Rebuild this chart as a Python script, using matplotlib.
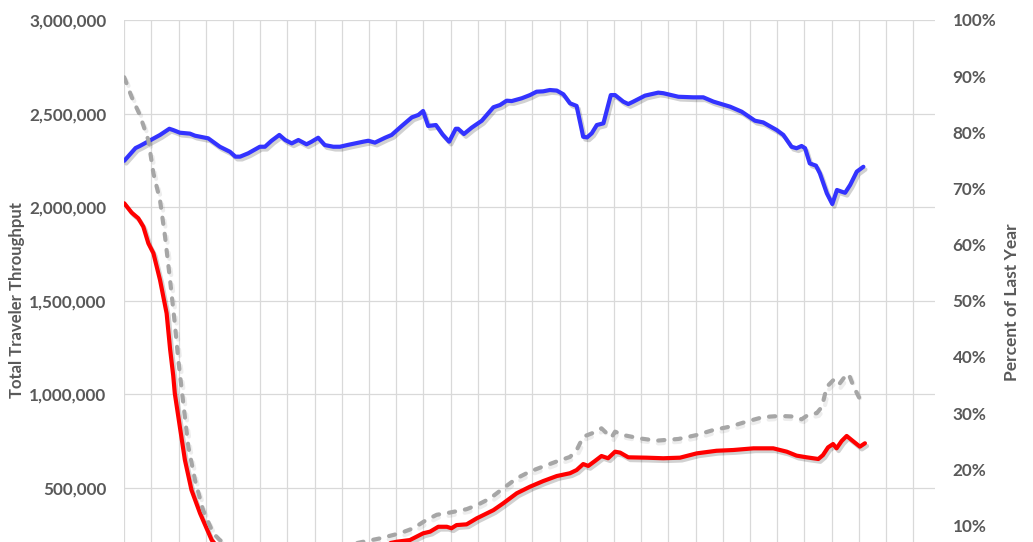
import matplotlib
matplotlib.use("Agg")
import matplotlib.pyplot as plt
import matplotlib.patheffects as pe
from matplotlib.ticker import FuncFormatter, MultipleLocator

# ---- data (x = days from start) ----
blue_days = [0, 2.9, 4.0, 6.2, 9.2, 11.6, 12.6, 14.3, 16.9, 18.2, 21.6, 24.6, 27.2, 28.6, 29.8,
             31.9, 34.9, 36.2, 37.9, 39.9, 41.4, 43.1, 44.8, 46.9, 48.2, 49.9, 51.6, 53.8, 55.5,
             57.6, 61.5, 62.8, 64.5, 67.1, 68.8, 71.4, 74.0, 75.7, 76.9, 78.2, 80.2, 81.9, 83.6,
             85.3, 85.9, 87.4, 89.4, 92.0, 95.0, 96.7, 98.4, 99.7, 102.3, 104.4, 106.1, 107.8,
             109.5, 111.3, 113.0, 114.7, 116.4, 118.1, 119.1, 120.3, 121.6, 123.3, 125.2, 126.3,
             128.4, 129.7, 131.0, 134.0, 137.4, 138.7, 142.6, 146.4, 149.0, 151.6, 155.9, 158.9,
             162.3, 164.4, 167.9, 169.6, 171.7, 173.0, 174.3, 175.2, 176.4, 178.0, 179.0, 180.8,
             182.2, 183.4, 184.6, 185.5, 186.8, 188.5, 190.2]
blue_vals = [2.248, 2.316, 2.327, 2.352, 2.386, 2.419, 2.412, 2.398, 2.393, 2.382, 2.368, 2.323,
             2.296, 2.270, 2.270, 2.288, 2.323, 2.323, 2.355, 2.386, 2.359, 2.341, 2.359, 2.336,
             2.350, 2.371, 2.332, 2.323, 2.323, 2.333, 2.350, 2.355, 2.345, 2.371, 2.386, 2.434,
             2.480, 2.493, 2.514, 2.434, 2.439, 2.389, 2.350, 2.419, 2.419, 2.391, 2.425, 2.462,
             2.534, 2.546, 2.569, 2.567, 2.582, 2.599, 2.617, 2.619, 2.626, 2.623, 2.603, 2.555,
             2.541, 2.376, 2.373, 2.395, 2.439, 2.448, 2.599, 2.599, 2.564, 2.551, 2.564, 2.596,
             2.612, 2.609, 2.590, 2.587, 2.587, 2.564, 2.537, 2.510, 2.462, 2.453, 2.412, 2.386,
             2.323, 2.315, 2.327, 2.315, 2.234, 2.222, 2.181, 2.074, 2.017, 2.092, 2.083, 2.077,
             2.119, 2.190, 2.216]

red_days = [0, 1.9, 3.6, 4.9, 6.2, 7.5, 9.2, 10.9, 11.8, 12.6, 13.0, 14.3, 15.6, 17.3, 19.5, 22.5,
            25, 28, 32, 36, 40, 44, 48, 52, 56, 60, 64, 67,
            70.1, 73.5, 76.9, 78.7, 80.8, 83.0, 84.2, 85.5, 88.1, 90.7, 95.0, 97.5, 101.0, 104.4,
            107.8, 111.3, 114.7, 116.4, 118.1, 119.4, 121.1, 122.8, 124.5, 126.3, 127.6, 129.7,
            134.4, 138.7, 143.0, 147.3, 152.4, 156.7, 161.9, 167.0, 170.5, 173.0, 175.6, 178.6,
            179.8, 181.1, 182.4, 183.3, 184.6, 185.9, 187.2, 189.3, 190.6]
red_vals = [2.021, 1.971, 1.941, 1.896, 1.807, 1.754, 1.611, 1.433, 1.240, 1.100, 1.006, 0.827,
            0.650, 0.489, 0.365, 0.222,
            0.160, 0.120, 0.100, 0.095, 0.100, 0.110, 0.125, 0.140, 0.160, 0.175, 0.188, 0.200,
            0.213, 0.222, 0.258, 0.267, 0.293, 0.293, 0.285, 0.302, 0.306, 0.338, 0.382, 0.418,
            0.472, 0.507, 0.537, 0.564, 0.579, 0.596, 0.628, 0.618, 0.644, 0.671, 0.659, 0.694,
            0.689, 0.664, 0.662, 0.659, 0.662, 0.685, 0.699, 0.703, 0.712, 0.712, 0.694, 0.673,
            0.664, 0.655, 0.676, 0.717, 0.735, 0.712, 0.751, 0.778, 0.756, 0.721, 0.739]

pct_days = [0, 1.9, 4.0, 6.2, 7.5, 9.2, 10.5, 11.8, 13.0, 13.9, 15.2, 16.5, 18.2, 20.3, 22.9, 24.6,
            28, 32, 36, 40, 44, 48, 52, 56,
            61.5, 65.8, 70.9, 74.4, 77.8, 80.4, 83.8, 88.1, 90.7, 94.1, 97.5, 101.0, 104.4, 107.8,
            111.3, 114.7, 116.4, 118.1, 120.7, 122.8, 123.7, 125.4, 126.3, 128.4, 132.7, 137.0,
            142.6, 147.3, 151.6, 155.9, 160.2, 164.4, 168.7, 172.1, 174.3, 176.0, 178.2, 179.5,
            180.8, 182.5, 183.8, 185.1, 186.4, 187.7, 189.3]
pct_vals = [89.8, 86.3, 83.1, 78.6, 72.7, 67.9, 61.4, 53.6, 46.0, 39.5, 31.7, 24.0, 18.1, 12.7,
            8.6, 7.4,
            6.0, 5.0, 4.3, 4.2, 4.6, 5.1, 5.7, 6.3,
            7.1, 7.7, 8.6, 9.5, 11.0, 11.9, 12.3, 12.9, 13.6, 14.8, 16.6, 18.4, 19.6, 20.5, 21.4,
            22.2, 23.4, 25.8, 26.5, 27.3, 26.7, 25.7, 26.7, 26.1, 25.5, 25.1, 25.4, 26.1, 27.0,
            27.6, 28.5, 29.3, 29.5, 29.4, 28.9, 29.7, 30.0, 31.1, 34.7, 35.9, 35.0, 36.2, 37.0,
            34.7, 32.5]

left_ticks = [0, 500000, 1000000, 1500000, 2000000, 2500000, 3000000]
right_ticks = [10, 20, 30, 40, 50, 60, 70, 80, 90, 100]
left_label = "Total Traveler Throughput"
right_label = "Percent of Last Year"

# ---- style ----
FONT = ["Lato", "DejaVu Sans"]
TXT = "#595959"
plt.rcParams["font.family"] = FONT

fig = plt.figure(figsize=(10.33, 5.42), dpi=100)
ax = fig.add_axes([0.1203, -0.0731, 0.7851, 1.0362])
ax2 = ax.twinx()

shadow = [pe.SimpleLineShadow(offset=(1.5, -2), shadow_color="black", alpha=0.18, rho=1), pe.Normal()]
shadow_light = [pe.SimpleLineShadow(offset=(1.5, -2), shadow_color="black", alpha=0.07, rho=1), pe.Normal()]

ax.plot(blue_days, [v * 1e6 for v in blue_vals], color="#3333FF", lw=3.0,
        solid_joinstyle="round", solid_capstyle="round", path_effects=shadow, zorder=3)
ax.plot(red_days, [v * 1e6 for v in red_vals], color="#FF0000", lw=3.0,
        solid_joinstyle="round", solid_capstyle="round", path_effects=shadow, zorder=4)
l3, = ax2.plot(pct_days, pct_vals, color="#A6A6A6", lw=3.0, dash_capstyle="round",
               dash_joinstyle="round", path_effects=shadow_light, zorder=3)
l3.set_dashes([1.5, 2.4])

ax.set_xlim(0, 208.7)
ax.set_ylim(0, 3000000)
ax2.set_ylim(0, 100)

ax.xaxis.set_major_locator(MultipleLocator(7))
ax.set_xticklabels([])
ax.set_yticks(left_ticks)
ax.yaxis.set_major_formatter(FuncFormatter(lambda v, p: f"{int(v):,}" if v > 0 else ""))
ax2.set_yticks(right_ticks)
ax2.yaxis.set_major_formatter(FuncFormatter(lambda v, p: f"{int(v)}%"))

ax.grid(True, color="#D9D9D9", lw=0.9, zorder=0)
ax.set_axisbelow(True)
for a in (ax, ax2):
    for s in a.spines.values():
        s.set_visible(False)
    a.tick_params(length=0)

ax.tick_params(axis="y", pad=12.7, labelsize=12.3, labelcolor=TXT)
ax2.tick_params(axis="y", pad=12.5, labelsize=12.3, labelcolor=TXT)
for lab in ax.get_yticklabels() + ax2.get_yticklabels():
    lab.set_fontweight("bold")

ax.set_ylabel(left_label, fontsize=12.1, fontweight="bold", color=TXT)
ax.yaxis.label.set(ha="center", va="center")
ax.yaxis.set_label_coords(-0.1317, 0.501)
ax2.set_ylabel(right_label, fontsize=12.5, fontweight="bold", color=TXT)
ax2.yaxis.label.set(ha="center", va="center")
ax2.yaxis.set_label_coords(1.0942, 0.497)

fig.savefig("out.png", dpi=100)
